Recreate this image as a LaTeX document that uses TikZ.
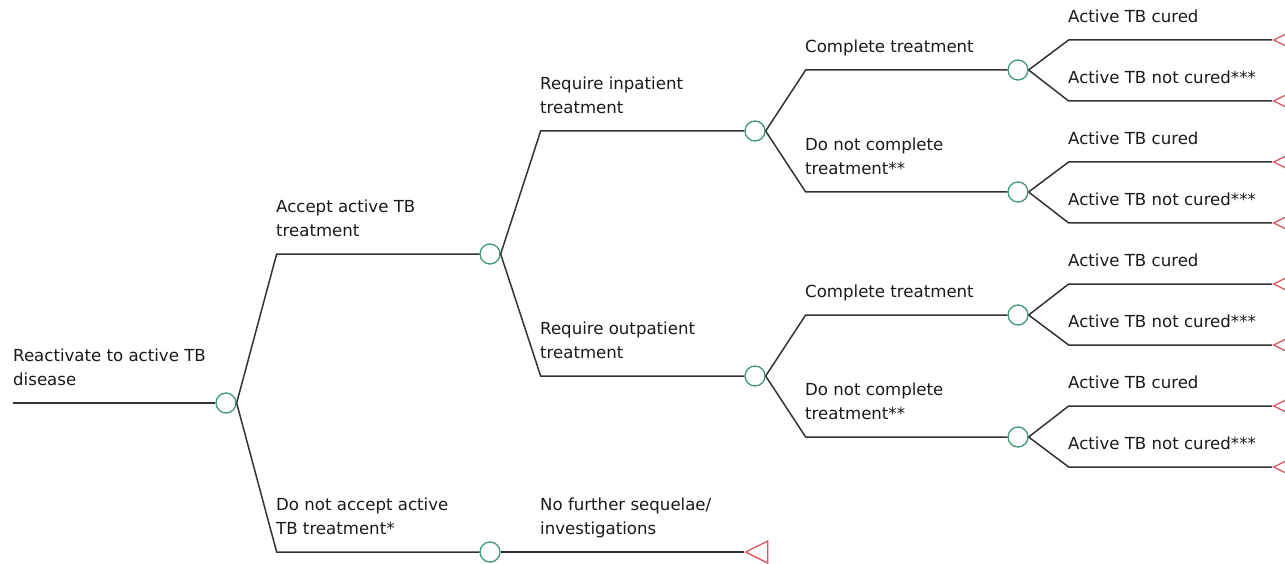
\documentclass[tikz,border=0pt]{standalone}
\usepackage{fontspec}
\setmainfont{DejaVu Sans}
\usetikzlibrary{shapes.geometric}
\definecolor{edgegray}{HTML}{333333}
\definecolor{chancegreen}{HTML}{3C9A6E}
\definecolor{termred}{HTML}{E0505A}
\tikzset{
  branch/.style={draw=edgegray, line width=1.5pt},
  chance/.style={circle, draw=chancegreen, line width=1.3pt, fill=white, minimum size=20pt, inner sep=0pt},
  term/.style={isosceles triangle, shape border rotate=180, draw=termred, line width=1.3pt, fill=white,
               minimum width=22pt, minimum height=22pt, inner sep=0pt, anchor=apex, isosceles triangle stretches},
  lbl/.style={anchor=south west, inner sep=0pt, align=left, text depth=0pt, text=black!90,
              font=\fontsize{16.6}{24}\selectfont}
}
\begin{document}
\begin{tikzpicture}[x=1pt,y=-1pt]
\useasboundingbox (0,0) rectangle (1285,564);
\clip (0,0) rectangle (1285,564);
% chance nodes
\node[chance] (c1) at (226,403) {};
\node[chance] (c2) at (490,254) {};
\node[chance] (c3) at (490,552) {};
\node[chance] (c4) at (755,131) {};
\node[chance] (c5) at (755,376) {};
\node[chance] (c6) at (1018,70) {};
\node[chance] (c7) at (1018,192) {};
\node[chance] (c8) at (1018,315) {};
\node[chance] (c9) at (1018,437) {};
% terminal nodes
\node[term] (t0) at (744,552) {};
\node[term] (t1) at (1272,40) {};
\node[term] (t2) at (1272,101) {};
\node[term] (t3) at (1272,162) {};
\node[term] (t4) at (1272,223) {};
\node[term] (t5) at (1272,284) {};
\node[term] (t6) at (1272,345) {};
\node[term] (t7) at (1272,406) {};
\node[term] (t8) at (1272,467) {};
\coordinate (root) at (13,403);
% connectors
\draw[branch] (root) -- (c1);
\draw[branch] (c1.east) -- ([xshift=40pt]c1.east |- c2) -- (c2);
\draw[branch] (c1.east) -- ([xshift=40pt]c1.east |- c3) -- (c3);
\draw[branch] (c2.east) -- ([xshift=40pt]c2.east |- c4) -- (c4);
\draw[branch] (c2.east) -- ([xshift=40pt]c2.east |- c5) -- (c5);
\draw[branch] (c3) -- (t0);
\draw[branch] (c4.east) -- ([xshift=40pt]c4.east |- c6) -- (c6);
\draw[branch] (c4.east) -- ([xshift=40pt]c4.east |- c7) -- (c7);
\draw[branch] (c5.east) -- ([xshift=40pt]c5.east |- c8) -- (c8);
\draw[branch] (c5.east) -- ([xshift=40pt]c5.east |- c9) -- (c9);
\draw[branch] (c6.east) -- ([xshift=40pt]c6.east |- t1) -- (t1);
\draw[branch] (c6.east) -- ([xshift=40pt]c6.east |- t2) -- (t2);
\draw[branch] (c7.east) -- ([xshift=40pt]c7.east |- t3) -- (t3);
\draw[branch] (c7.east) -- ([xshift=40pt]c7.east |- t4) -- (t4);
\draw[branch] (c8.east) -- ([xshift=40pt]c8.east |- t5) -- (t5);
\draw[branch] (c8.east) -- ([xshift=40pt]c8.east |- t6) -- (t6);
\draw[branch] (c9.east) -- ([xshift=40pt]c9.east |- t7) -- (t7);
\draw[branch] (c9.east) -- ([xshift=40pt]c9.east |- t8) -- (t8);
% labels
\node[lbl] (l0) at (13,386) {Reactivate to active TB\\disease};
\node[lbl] (l1) at (276,237) {Accept active TB\\treatment};
\node[lbl] (l2) at (276,535) {Do not accept active\\TB treatment*};
\node[lbl] (l3) at (540,114) {Require inpatient\\treatment};
\node[lbl] (l4) at (540,359) {Require outpatient\\treatment};
\node[lbl] (l5) at (540,535) {No further sequelae/\\investigations};
\node[lbl] (l6) at (805,53) {Complete treatment};
\node[lbl] (l7) at (805,175) {Do not complete\\treatment**};
\node[lbl] (l8) at (805,298) {Complete treatment};
\node[lbl] (l9) at (805,420) {Do not complete\\treatment**};
\node[lbl] (a1) at (1068,23) {Active TB cured};
\node[lbl] (a2) at (1068,84) {Active TB not cured***};
\node[lbl] (a3) at (1068,145) {Active TB cured};
\node[lbl] (a4) at (1068,206) {Active TB not cured***};
\node[lbl] (a5) at (1068,267) {Active TB cured};
\node[lbl] (a6) at (1068,328) {Active TB not cured***};
\node[lbl] (a7) at (1068,389) {Active TB cured};
\node[lbl] (a8) at (1068,450) {Active TB not cured***};
\end{tikzpicture}
\end{document}
